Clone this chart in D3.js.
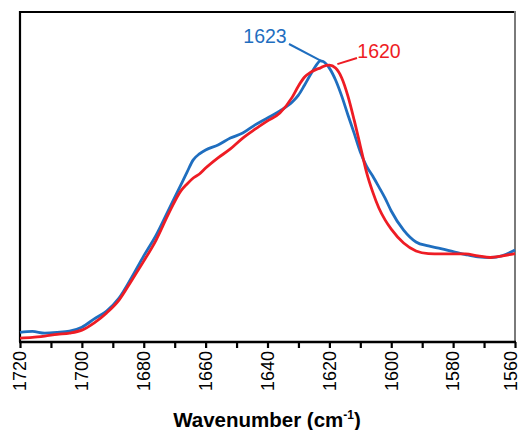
<!DOCTYPE html>
<html><head><meta charset="utf-8">
<script src="https://cdn.jsdelivr.net/npm/d3@7"></script>
<style>
html,body{margin:0;padding:0;background:#fff;}
svg{display:block;font-family:"Liberation Sans",Arial,sans-serif;}
</style></head>
<body><svg id="c" width="522" height="430"></svg>
<script>
const wavenumbers = [1720,1716,1712,1708,1704,1700,1696,1692,1688,1684,1680,1676,1672,1668,1666,1664,1662,1660,1656,1652,1648,1644,1640,1636,1632,1630,1628,1626,1624,1623,1622,1620,1618,1616,1614,1612,1610,1608,1606,1604,1602,1600,1596,1592,1588,1584,1580,1576,1572,1568,1564,1560];
const blueValues = [0.029,0.032,0.027,0.029,0.033,0.045,0.070,0.094,0.133,0.194,0.261,0.324,0.400,0.476,0.515,0.552,0.570,0.582,0.597,0.618,0.633,0.658,0.679,0.700,0.727,0.748,0.779,0.812,0.842,0.852,0.850,0.830,0.794,0.745,0.688,0.633,0.576,0.533,0.503,0.470,0.436,0.397,0.339,0.303,0.291,0.283,0.274,0.265,0.258,0.256,0.262,0.279];
const redValues = [0.012,0.014,0.018,0.023,0.027,0.036,0.058,0.088,0.127,0.185,0.245,0.309,0.388,0.458,0.479,0.497,0.509,0.527,0.558,0.585,0.618,0.645,0.670,0.694,0.742,0.776,0.803,0.818,0.827,0.830,0.835,0.839,0.830,0.800,0.745,0.673,0.594,0.515,0.455,0.406,0.370,0.342,0.300,0.276,0.268,0.267,0.267,0.267,0.261,0.256,0.261,0.268];
const xTickValues = [1720,1710,1700,1690,1680,1670,1660,1650,1640,1630,1620,1610,1600,1590,1580,1570,1560];
const xTickLabels = ["1720","1700","1680","1660","1640","1620","1600","1580","1560"];
const peakLabels = [{text:"1623", wn:1623, series:"blue"},{text:"1620", wn:1620, series:"red"}];

const svg = d3.select("#c");
const L=20, R=515, T=12, B=342;
const x = d3.scaleLinear().domain([1720,1560]).range([L,R]);
const y = d3.scaleLinear().domain([0,1]).range([B,T]);

// frame
svg.append("line").attr("x1",L).attr("x2",R).attr("y1",T).attr("y2",T).attr("stroke","#000").attr("stroke-width",2.2);
svg.append("line").attr("x1",L).attr("x2",L).attr("y1",T-1).attr("y2",B).attr("stroke","#000").attr("stroke-width",2.2);
svg.append("line").attr("x1",R).attr("x2",R).attr("y1",T-1).attr("y2",B).attr("stroke","#7a7a7a").attr("stroke-width",2);

const line = d3.line().x((d,i)=>x(wavenumbers[i])).y(d=>y(d)).curve(d3.curveMonotoneX);
const blueColor="#1f6ebf", redColor="#ee1c24";
svg.append("path").datum(blueValues).attr("d",line).attr("fill","none").attr("stroke",blueColor).attr("stroke-width",2.8);
svg.append("path").datum(redValues).attr("d",line).attr("fill","none").attr("stroke",redColor).attr("stroke-width",2.8);

// x axis
const ax = svg.append("g").attr("transform",`translate(0,${B})`);
ax.call(d3.axisBottom(x).tickValues(xTickValues).tickSize(6).tickFormat(""));
ax.select(".domain").attr("stroke","#000").attr("stroke-width",2.6).attr("d",`M${L-1},0H${R+1}`);
ax.selectAll(".tick line").attr("stroke","#000").attr("stroke-width",2.2);
const lbl = svg.append("g");
xTickLabels.forEach(t=>{
  const px = Math.min(x(+t), 511);
  lbl.append("text").attr("transform",`translate(${px},351) rotate(-90)`)
    .attr("text-anchor","end").attr("dy","0.35em").attr("font-size",18).attr("fill","#000").text(t);
});
const title = svg.append("text").attr("x",267).attr("y",427).attr("text-anchor","middle")
  .attr("font-size",20.5).attr("font-weight","bold").attr("fill","#000");
title.append("tspan").text("Wavenumber (cm");
title.append("tspan").attr("font-size",12).attr("dy",-8).text("-1");
title.append("tspan").attr("dy",8).text(")");

// peak annotations
const bi = wavenumbers.indexOf(1623), ri = wavenumbers.indexOf(1620);
svg.append("line").attr("x1",289).attr("y1",44).attr("x2",x(1623)+1).attr("y2",y(blueValues[bi])).attr("stroke",blueColor).attr("stroke-width",2);
svg.append("text").attr("x",265).attr("y",43).attr("text-anchor","middle").attr("font-size",19.5).attr("fill",blueColor).text(peakLabels[0].text);
svg.append("line").attr("x1",x(1620)+8).attr("y1",y(redValues[ri])-1).attr("x2",357).attr("y2",58).attr("stroke",redColor).attr("stroke-width",2);
svg.append("text").attr("x",379).attr("y",58).attr("text-anchor","middle").attr("font-size",19.5).attr("fill",redColor).text(peakLabels[1].text);
</script></body></html>
